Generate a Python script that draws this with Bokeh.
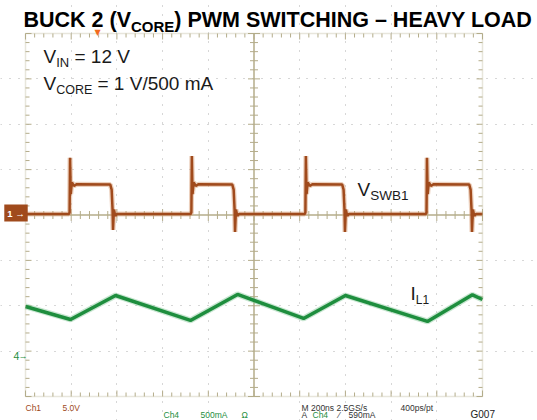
from bokeh.plotting import figure
from bokeh.models import FixedTicker, Label, Range1d, BoxAnnotation
from bokeh.embed import file_html
from bokeh.resources import INLINE

# ---------------- data ----------------
time_per_div_ns = 200
n_xdiv = 10
n_ydiv = 8
ch1_volts_per_div = 5.0      # Ch1 5.0V
ch4_mA_per_div = 500.0       # Ch4 500mA
ch1_offset_div = 0.0
ch4_offset_div = -3.1

# Ch1 : V_SWB1 switch node (V)
ch1_time_ns = [0, 190, 193, 195, 198, 203, 212, 225, 371, 377, 381, 383, 387, 393, 400,
               723, 726, 728, 731, 736, 745, 758, 905, 911, 915, 917, 921, 927, 934,
               1222, 1225, 1227, 1230, 1235, 1244, 1257, 1386, 1392, 1396, 1398, 1402, 1408, 1415,
               1752, 1755, 1757, 1760, 1765, 1774, 1787, 1942, 1948, 1952, 1954, 1958, 1964, 1971,
               2000]
ch1_volts = [0.1, 0.1, 0.3, 6.3, 2.3, 3.6, 3.2, 3.4, 3.35, 2.8, 0.6, -1.65, 0.6, -0.1, 0.1,
             0.1, 0.3, 6.5, 2.3, 3.6, 3.2, 3.4, 3.35, 2.8, 0.6, -1.87, 0.6, -0.1, 0.1,
             0.1, 0.3, 6.5, 2.3, 3.6, 3.2, 3.4, 3.35, 2.8, 0.6, -1.87, 0.6, -0.1, 0.1,
             0.1, 0.3, 6.3, 2.3, 3.6, 3.2, 3.4, 3.35, 2.8, 0.6, -1.87, 0.6, -0.1, 0.1,
             0.1]

# Ch4 : I_L1 inductor current (mA)
il1_time_ns = [0, 197, 394, 722, 928, 1217, 1400, 1759, 1956, 2000]
il1_mA = [542, 399, 663, 388, 675, 410, 663, 377, 670, 619]

# ---------------- styling / geometry ----------------
BROWN = "#A04A1C"
BROWN_HALO = "#D9A27C"
GREEN = "#1E8E3E"
GREEN_HALO = "#86C898"
OLIVE = "#B4AC8A"
GRID = "#AFAFAF"
INK = "#1A1A1A"
GRAY = "#333333"
FONT = "Liberation Sans"

W, H = 537, 420
G_LEFT, G_TOP, G_W, G_H = 25, 33, 457, 363      # graticule box in canvas px

x_max = time_per_div_ns * n_xdiv
y_half = n_ydiv / 2
PX_PER_NS = G_W / x_max
PX_PER_DIV = G_H / n_ydiv
Y_MID = G_TOP + G_H / 2


def at(xp, yp):
    # canvas pixel -> data coordinates
    return (xp - G_LEFT) / PX_PER_NS, (Y_MID - yp) / PX_PER_DIV


xs, ys_top = at(0, 0)
xe, ys_bot = at(W, H)

p = figure(width=W, height=H,
           x_range=Range1d(xs, xe), y_range=Range1d(ys_bot, ys_top),
           output_backend="svg", toolbar_location=None,
           min_border=0, min_border_left=0, min_border_right=0,
           min_border_top=0, min_border_bottom=0)
p.xaxis.visible = False
p.yaxis.visible = False
p.background_fill_color = "white"
p.border_fill_color = "white"
p.outline_line_color = None

x_major = list(range(0, x_max + 1, time_per_div_ns))
x_minor = list(range(0, x_max + 1, time_per_div_ns // 5))
y_major = [float(v) for v in range(-int(y_half), int(y_half) + 1)]
y_minor = [round(-y_half + 0.2 * k, 3) for k in range(int(n_ydiv * 5) + 1)]

# dotted graticule (centre lines are solid)
p.xgrid.ticker = FixedTicker(ticks=[t for t in x_major if t not in (0, x_max, x_max // 2)])
p.ygrid.ticker = FixedTicker(ticks=[v for v in y_major if v not in (-y_half, y_half, 0.0)])
p.xgrid.bounds = (-y_half, y_half)
p.ygrid.bounds = (0, x_max)
for g in (p.xgrid, p.ygrid):
    g.grid_line_color = GRID
    g.grid_line_dash = "1 8"
    g.grid_line_width = 1

# graticule outline
p.add_layout(BoxAnnotation(left=0, right=x_max, bottom=-y_half, top=y_half,
                           fill_alpha=0, line_color=OLIVE, line_width=1.5))
# centre cross
p.segment([0, x_max / 2], [0, -y_half], [x_max, x_max / 2], [0, y_half],
          line_color=OLIVE, line_width=1.5)


def tlen(t, major_list):
    return 6 if t in major_list else 4


x0, x1, y0, y1 = [], [], [], []
for t in x_minor:
    L = tlen(t, x_major) / PX_PER_DIV
    x0 += [t, t, t]
    x1 += [t, t, t]
    y0 += [-y_half, y_half, -L]
    y1 += [-y_half + L, y_half - L, L]
for v in y_minor:
    L = tlen(v, y_major) / PX_PER_NS
    x0 += [0, x_max, x_max / 2 - L]
    x1 += [L, x_max - L, x_max / 2 + L]
    y0 += [v, v, v]
    y1 += [v, v, v]
p.segment(x0, y0, x1, y1, line_color=OLIVE, line_width=1)

# traces
ch1_y = [v / ch1_volts_per_div + ch1_offset_div for v in ch1_volts]
il_y = [i / ch4_mA_per_div + ch4_offset_div for i in il1_mA]
p.line(ch1_time_ns, ch1_y, line_color=BROWN_HALO, line_width=5, line_alpha=0.5)
p.line(ch1_time_ns, ch1_y, line_color=BROWN, line_width=2.5)
p.line(il1_time_ns, il_y, line_color=GREEN_HALO, line_width=6, line_alpha=0.45)
p.line(il1_time_ns, il_y, line_color=GREEN, line_width=3.5)


# ---------------- text ----------------
def lab(text, xp, yb, size, color=INK, bold=False, align="left",
        font=FONT, **kw):
    # yb = wanted baseline in canvas px; label is anchored at its cap middle
    x, y = at(xp, yb - 0.36 * size)
    p.add_layout(Label(x=x, y=y, text=text, text_font=font,
                       text_font_size=f"{size}px", text_color=color,
                       text_font_style="bold" if bold else "normal",
                       text_align=align, text_baseline="middle", **kw))


# title with subscript
lab("BUCK 2 (V", 23, 27, 21.5, bold=True, color="#000000")
lab("CORE", 130.5, 31, 15, bold=True, color="#000000")
lab(") PWM SWITCHING \u2013 HEAVY LOAD", 173.8, 27, 21.5, bold=True, color="#000000")

# conditions
lab("V", 43, 63, 19)
lab("IN", 55.7, 67, 13)
lab("= 12 V", 74, 63, 19)
lab("V", 43, 90, 19)
lab("CORE", 55.7, 94, 12.5)
lab("= 1 V/500 mA", 97, 90, 19)

# trace names
lab("V", 357, 196, 19)
lab("SWB1", 369.7, 200, 13.5)
lab("I", 410, 300, 19)
lab("L1", 415.3, 303.5, 12)

# channel markers and trigger marker
lab("1 \u2192", 15.5, 216, 9.5, color="white", bold=True, align="center",
    background_fill_color=BROWN, padding=3)
lab("4", 13, 359, 10.5, color=GREEN)
lab("\u2192", 18, 358.5, 9, color=GREEN, bold=True)
lab("\u25BC", 97, 34.5, 8, color="#F26B1D", align="center", font="DejaVu Sans")

# scope readout
lab("Ch1", 25, 410.5, 8.5, color=BROWN)
lab("5.0V", 62, 410.5, 8.5, color=BROWN)
lab("M 200ns 2.5GS/s", 301, 410.5, 8.5, color=GRAY)
lab("400ps/pt", 400, 410.5, 8.5, color=GRAY)
lab("Ch4", 163, 418, 8.5, color=GREEN)
lab("500mA", 200, 418, 8.5, color=GREEN)
lab("\u03A9", 241, 418, 8.5, color=GREEN)
lab("A", 301, 418, 8.5, color=GRAY)
lab("Ch4", 312, 418, 8.5, color=GREEN)
lab("\u2044", 338, 418, 8.5, color=GRAY)
lab("590mA", 348, 418, 8.5, color=GRAY)
lab("G007", 470, 417.5, 10, color="#222222")

open("out.html", "w").write(file_html(p, INLINE))
